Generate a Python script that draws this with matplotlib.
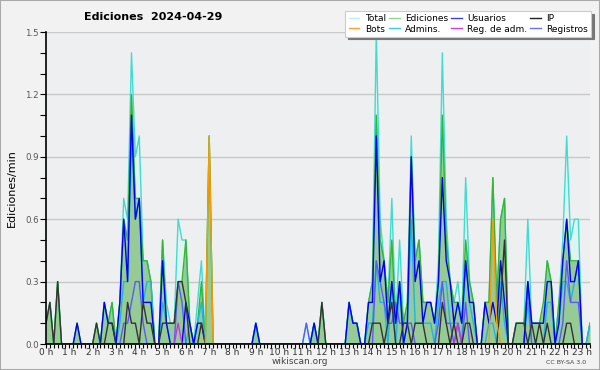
import matplotlib
matplotlib.use("Agg")
import matplotlib.pyplot as plt
import numpy as np
from matplotlib.lines import Line2D
from matplotlib.patches import Rectangle

# 10-minute bins, 0:00 .. 23:20 (edits per minute)
total = [
    0.1, 0.2, 0, 0.3, 0, 0,
    0, 0, 0.1, 0, 0, 0,
    0, 0.1, 0, 0.2, 0.1, 0.2,
    0, 0.2, 0.7, 0.6, 1.4, 0.9,
    1.0, 0.4, 0.4, 0.3, 0, 0,
    0.5, 0.2, 0.1, 0.1, 0.6, 0.5,
    0.5, 0.1, 0, 0.2, 0.4, 0,
    1.0, 0, 0, 0, 0, 0,
    0, 0, 0, 0, 0, 0,
    0.1, 0, 0, 0, 0, 0,
    0, 0, 0, 0, 0, 0,
    0, 0.1, 0, 0.1, 0, 0.2,
    0, 0, 0, 0, 0, 0,
    0.2, 0.1, 0.1, 0, 0, 0.2,
    0.3, 1.5, 0.6, 0.4, 0.2, 0.7,
    0.1, 0.5, 0.1, 0.2, 1.0, 0.4,
    0.5, 0.2, 0.2, 0.2, 0.1, 0.4,
    1.4, 0.6, 0.3, 0.2, 0.3, 0.1,
    0.8, 0.3, 0.2, 0, 0, 0.2,
    0.2, 0.8, 0.2, 0.6, 0.7, 0,
    0, 0.1, 0.1, 0.1, 0.6, 0.1,
    0.1, 0.1, 0.1, 0.4, 0.3, 0,
    0.2, 0.5, 1.0, 0.5, 0.6, 0.6,
    0, 0, 0.1,
]
ediciones = [
    0.1, 0.2, 0, 0.3, 0, 0,
    0, 0, 0.1, 0, 0, 0,
    0, 0.1, 0, 0.2, 0.1, 0.2,
    0, 0.2, 0.6, 0.5, 1.2, 0.7,
    0.7, 0.4, 0.4, 0.3, 0, 0,
    0.5, 0.1, 0.1, 0.1, 0.3, 0.3,
    0.5, 0.1, 0, 0.1, 0.3, 0,
    1.0, 0, 0, 0, 0, 0,
    0, 0, 0, 0, 0, 0,
    0.1, 0, 0, 0, 0, 0,
    0, 0, 0, 0, 0, 0,
    0, 0, 0, 0.1, 0, 0.2,
    0, 0, 0, 0, 0, 0,
    0.2, 0.1, 0.1, 0, 0, 0.2,
    0.3, 1.1, 0.5, 0.4, 0.2, 0.5,
    0.1, 0.3, 0.1, 0.2, 0.9, 0.4,
    0.5, 0.2, 0.2, 0.2, 0.1, 0.3,
    1.1, 0.5, 0.3, 0.2, 0.2, 0.1,
    0.5, 0.3, 0.2, 0, 0, 0.2,
    0.2, 0.8, 0.2, 0.6, 0.7, 0,
    0, 0.1, 0.1, 0.1, 0.3, 0.1,
    0.1, 0.1, 0.2, 0.4, 0.3, 0,
    0.2, 0.4, 0.6, 0.4, 0.4, 0.4,
    0, 0, 0.1,
]
usuarios = [
    0, 0, 0, 0, 0, 0,
    0, 0, 0.1, 0, 0, 0,
    0, 0, 0, 0.2, 0.1, 0.1,
    0, 0.2, 0.6, 0.3, 1.1, 0.6,
    0.7, 0.2, 0.2, 0.2, 0, 0,
    0.4, 0.1, 0, 0, 0, 0,
    0.2, 0.1, 0, 0.1, 0.1, 0,
    0, 0, 0, 0, 0, 0,
    0, 0, 0, 0, 0, 0,
    0.1, 0, 0, 0, 0, 0,
    0, 0, 0, 0, 0, 0,
    0, 0, 0, 0.1, 0, 0,
    0, 0, 0, 0, 0, 0,
    0.2, 0.1, 0.1, 0, 0, 0.2,
    0.2, 1.0, 0.3, 0.4, 0.1, 0.3,
    0.1, 0.3, 0, 0.1, 0.9, 0.3,
    0.4, 0.1, 0.2, 0.2, 0.1, 0.3,
    0.8, 0.4, 0.3, 0.1, 0.2, 0.1,
    0.4, 0.2, 0.2, 0, 0, 0.2,
    0.1, 0.2, 0.1, 0.4, 0.2, 0,
    0, 0, 0, 0, 0.3, 0.1,
    0.1, 0.1, 0.1, 0.3, 0.3, 0,
    0.1, 0.4, 0.6, 0.3, 0.3, 0.4,
    0, 0, 0,
]
ip = [
    0.1, 0.2, 0, 0.3, 0, 0,
    0, 0, 0, 0, 0, 0,
    0, 0.1, 0, 0, 0.1, 0.1,
    0, 0, 0, 0.2, 0.1, 0.1,
    0, 0.2, 0.1, 0.1, 0, 0,
    0.1, 0.1, 0.1, 0.1, 0.3, 0.3,
    0.2, 0, 0, 0, 0.1, 0,
    0, 0, 0, 0, 0, 0,
    0, 0, 0, 0, 0, 0,
    0, 0, 0, 0, 0, 0,
    0, 0, 0, 0, 0, 0,
    0, 0, 0, 0, 0, 0.2,
    0, 0, 0, 0, 0, 0,
    0, 0, 0, 0, 0, 0,
    0.1, 0.1, 0.1, 0, 0.1, 0.2,
    0, 0, 0.1, 0.1, 0, 0.1,
    0.1, 0.1, 0, 0, 0, 0,
    0.2, 0.1, 0, 0.1, 0, 0,
    0.1, 0.1, 0, 0, 0, 0,
    0, 0, 0, 0.2, 0.5, 0,
    0, 0.1, 0.1, 0.1, 0, 0.1,
    0, 0.1, 0, 0.1, 0, 0,
    0, 0, 0.1, 0.1, 0, 0,
    0, 0, 0,
]
admins = [
    0, 0, 0, 0, 0, 0,
    0, 0, 0, 0, 0, 0,
    0, 0, 0, 0, 0, 0,
    0, 0.1, 0.3, 0.3, 1.0, 0.6,
    0.7, 0.2, 0.3, 0.3, 0, 0,
    0.2, 0.1, 0, 0, 0, 0,
    0, 0.1, 0, 0.1, 0.2, 0,
    0, 0, 0, 0, 0, 0,
    0, 0, 0, 0, 0, 0,
    0.1, 0, 0, 0, 0, 0,
    0, 0, 0, 0, 0, 0,
    0, 0, 0, 0.1, 0, 0,
    0, 0, 0, 0, 0, 0,
    0.2, 0.1, 0.1, 0, 0, 0.1,
    0.1, 0.4, 0.2, 0.2, 0, 0.3,
    0, 0.3, 0, 0.1, 0.6, 0.1,
    0.1, 0.1, 0.1, 0.1, 0, 0.2,
    0.3, 0.3, 0.1, 0.1, 0.1, 0,
    0.4, 0.2, 0.1, 0, 0, 0,
    0.1, 0.1, 0, 0.3, 0.1, 0,
    0, 0, 0, 0, 0.2, 0,
    0, 0, 0, 0.2, 0.2, 0,
    0.1, 0.3, 0.3, 0.2, 0.3, 0.4,
    0, 0, 0.1,
]
registros = [
    0, 0, 0, 0, 0, 0,
    0, 0, 0, 0, 0, 0,
    0, 0, 0, 0, 0, 0,
    0, 0, 0.1, 0.1, 0.2, 0.3,
    0.3, 0.1, 0, 0, 0, 0,
    0, 0, 0, 0, 0.3, 0.2,
    0, 0, 0, 0, 0, 0,
    0, 0, 0, 0, 0, 0,
    0, 0, 0, 0, 0, 0,
    0, 0, 0, 0, 0, 0,
    0, 0, 0, 0, 0, 0,
    0, 0.1, 0, 0, 0, 0,
    0, 0, 0, 0, 0, 0,
    0, 0, 0, 0, 0, 0,
    0, 0.4, 0.3, 0.2, 0.1, 0.1,
    0.2, 0.1, 0.1, 0.1, 0.1, 0,
    0, 0, 0, 0, 0, 0.1,
    0.3, 0.1, 0.1, 0, 0.1, 0,
    0.2, 0, 0, 0, 0, 0,
    0, 0, 0, 0, 0, 0,
    0, 0, 0, 0, 0.3, 0,
    0, 0, 0, 0, 0, 0,
    0, 0.1, 0.4, 0.2, 0.2, 0.2,
    0, 0, 0,
]
bots = [0.0] * 141
bots[42] = 1.0
bots[115] = 0.6
bots[116] = 0.1
reg_adm = [0.0] * 141
reg_adm[34] = 0.1
reg_adm[106] = 0.1

hours = [f"{h} h" for h in range(24)]

x = np.arange(len(total))

fig = plt.figure(figsize=(6, 3.7), dpi=100, facecolor="#f2f2f2")
ax = fig.add_axes([46 / 600, 26 / 370, 544 / 600, 312 / 370])
ax.set_facecolor("#eeeff1")

ax.fill_between(x, total, color="#dff3f1", lw=0)
ax.fill_between(x, ediciones, color="#96cb96", lw=0)

lw = 1.0
ax.plot(x, total, color="#40dcd0", lw=lw)
ax.plot(x, ediciones, color="#35b535", lw=lw)
ax.plot(x, admins, color="#1fb4e4", lw=lw)
ax.plot(x, registros, color="#5a5aff", lw=lw)
ax.plot(x, usuarios, color="#0000ee", lw=lw)
ax.plot(x, reg_adm, color="#cc33dd", lw=lw)
ax.plot(x, ip, color="#333333", lw=lw)
ax.plot(x, bots, color="#ff9900", lw=lw)

ax.set_xlim(0, 140)
ax.set_ylim(0, 1.5)
ax.set_yticks(np.arange(0, 1.51, 0.3))
ax.set_yticklabels([f"{v:.1f}" for v in np.arange(0, 1.51, 0.3)])
ax.set_yticks(np.arange(0, 1.51, 0.1), minor=True)
ax.set_xticks(np.arange(0, 141, 6))
ax.set_xticklabels(hours)
ax.set_xticks(np.arange(0, 141, 1), minor=True)
ax.tick_params(axis="both", which="both", direction="out", width=0.8,
               colors="black", labelsize=6.5, labelcolor="#333333")
ax.tick_params(axis="x", which="both", length=3, pad=0)
ax.tick_params(axis="y", which="both", length=4, pad=1, labelsize=6.2,
               labelcolor="#555555")
ax.yaxis.grid(True, which="major", color="#c8c8c8", lw=1)
ax.set_axisbelow(True)
for s in ["top", "right"]:
    ax.spines[s].set_visible(False)
for s in ["left", "bottom"]:
    ax.spines[s].set_linewidth(1.2)

ax.set_ylabel("Ediciones/min", fontsize=8, labelpad=6)
fig.text(153 / 600, 1 - 17 / 370, "Ediciones  2024-04-29", ha="center", va="center",
         fontsize=8, fontweight="bold")
fig.text(300 / 600, 1 - 362 / 370, "wikiscan.org", ha="center", va="center",
         fontsize=6.5, color="#444444")
fig.text(566 / 600, 1 - 363 / 370, "CC BY-SA 3.0", ha="center", va="center",
         fontsize=4.5, color="#444444")

handles = [
    Line2D([], [], color="#bfeeee", lw=1), Line2D([], [], color="#ffa030", lw=1),
    Line2D([], [], color="#90d890", lw=1), Line2D([], [], color="#40c8e0", lw=1),
    Line2D([], [], color="#4040e0", lw=1), Line2D([], [], color="#d040e0", lw=1),
    Line2D([], [], color="#222222", lw=1), Line2D([], [], color="#7070f0", lw=1),
]
labels = ["Total", "Bots", "Ediciones", "Admins.", "Usuarios", "Reg. de adm.",
          "IP", "Registros"]
leg = fig.legend(handles, labels, ncol=4, loc="upper right",
                 bbox_to_anchor=(591 / 600, 1 - 11 / 370), fontsize=6.5,
                 frameon=True, fancybox=False, shadow={"color": "#777777", "alpha": 1},
                 handlelength=1.2, handletextpad=0.6, columnspacing=0.3,
                 labelspacing=0.15, borderpad=0.35, borderaxespad=0)
leg.get_frame().set_edgecolor("#cccccc")
leg.get_frame().set_linewidth(0.8)

fig.patches.append(Rectangle((0, 0), 1, 1, transform=fig.transFigure, fill=False,
                             edgecolor="#aaaaaa", lw=1.5))

fig.savefig("out.png", dpi=100, facecolor=fig.get_facecolor())
